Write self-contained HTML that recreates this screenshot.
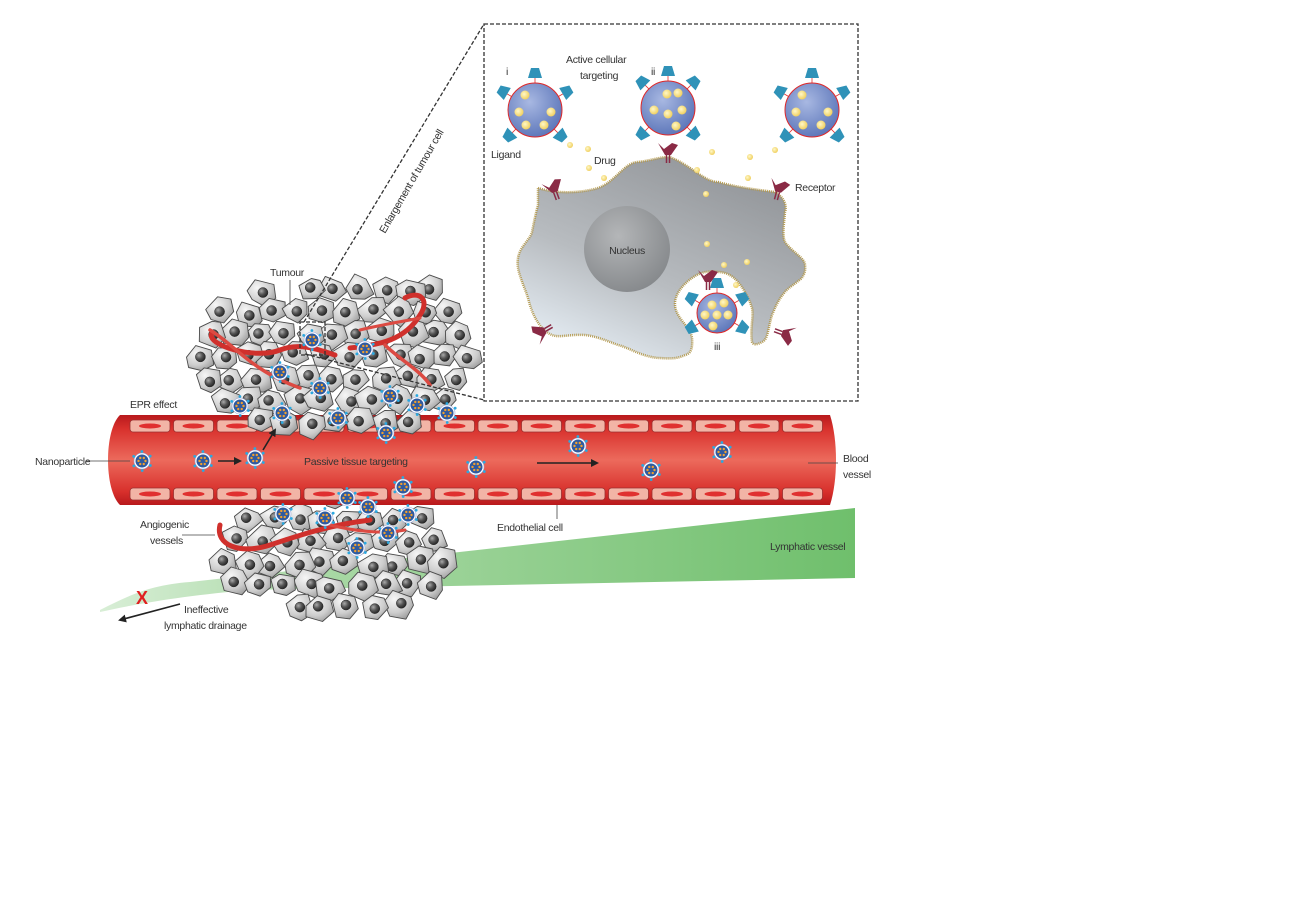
<!DOCTYPE html>
<html><head><meta charset="utf-8">
<style>
html,body{margin:0;padding:0;background:#fff;width:1300px;height:900px;overflow:hidden}
svg{display:block}
text{font-family:"Liberation Sans Narrow","Liberation Sans",sans-serif;font-size:10.5px;letter-spacing:-0.3px;fill:#333}
</style></head><body>
<svg id="s" width="1300" height="900" viewBox="0 0 1300 900" xmlns="http://www.w3.org/2000/svg">
<defs>
<linearGradient id="vessel" x1="0" y1="0" x2="0" y2="1">
<stop offset="0" stop-color="#b8191c"/><stop offset="0.15" stop-color="#d8302c"/><stop offset="0.5" stop-color="#ec6a5c"/><stop offset="0.85" stop-color="#d8302c"/><stop offset="1" stop-color="#b8191c"/></linearGradient>
<linearGradient id="lymph" x1="0" y1="0" x2="1" y2="0">
<stop offset="0" stop-color="#d8eed6"/><stop offset="0.3" stop-color="#a8d8a4"/><stop offset="1" stop-color="#6fbf6c"/></linearGradient>
<radialGradient id="cellg" cx="0.35" cy="0.3" r="0.8">
<stop offset="0" stop-color="#f6f6f6"/><stop offset="0.6" stop-color="#cdcdcd"/><stop offset="1" stop-color="#989898"/></radialGradient>
<radialGradient id="nuc" cx="0.35" cy="0.35" r="0.7">
<stop offset="0" stop-color="#aaa"/><stop offset="0.5" stop-color="#555"/><stop offset="1" stop-color="#222"/></radialGradient>
<linearGradient id="bigcell" x1="0.2" y1="1" x2="0.8" y2="0">
<stop offset="0" stop-color="#e6eef5"/><stop offset="0.4" stop-color="#b8bcc0"/><stop offset="1" stop-color="#8f9296"/></linearGradient>
<radialGradient id="bignuc" cx="0.4" cy="0.35" r="0.7">
<stop offset="0" stop-color="#b4b6b8"/><stop offset="1" stop-color="#85888b"/></radialGradient>
<radialGradient id="np" cx="0.4" cy="0.35" r="0.7">
<stop offset="0" stop-color="#a8b8e2"/><stop offset="1" stop-color="#5a74b8"/></radialGradient>
<radialGradient id="dot" cx="0.4" cy="0.4" r="0.6">
<stop offset="0" stop-color="#fff8c8"/><stop offset="1" stop-color="#f0d060"/></radialGradient>
<marker id="ah" markerWidth="8" markerHeight="8" refX="6" refY="4" orient="auto" markerUnits="userSpaceOnUse">
<path d="M0,0 L8,4 L0,8 Z" fill="#222"/></marker>
</defs>

<path d="M100,610 C130,595 150,585 190,582 L855,508 L855,578 L250,590 C190,595 140,603 100,612 Z" fill="url(#lymph)"/>

<g id="tumLow"></g>

<path d="M120,415 L830,415 C838,440 838,480 830,505 L120,505 C104,490 104,430 120,415 Z" fill="url(#vessel)"/>
<g id="endo"></g>

<g id="tumUp"></g>
<g id="redv" fill="none" stroke-linecap="round">
<path d="M212,333 C205,345 255,360 280,350 C300,342 320,350 335,355" stroke="#d0302c" stroke-width="5"/>
<path d="M210,330 C235,345 250,370 300,388" stroke="#dc4a42" stroke-width="3.5"/>
<path d="M405,298 C420,290 430,300 420,315 C405,340 380,345 350,348" stroke="#d0302c" stroke-width="5"/>
<path d="M385,345 C400,360 420,370 430,385" stroke="#dc4a42" stroke-width="3.5"/>
<path d="M360,330 C380,325 400,322 420,318" stroke="#dc4a42" stroke-width="3"/>
<path d="M220,525 C215,545 240,555 270,545 C300,535 330,525 370,520" stroke="#d0302c" stroke-width="5"/>
<path d="M330,525 C350,530 380,535 405,530" stroke="#dc4a42" stroke-width="3"/>
</g>
<g id="nps"></g>

<g stroke="#222" stroke-width="1.6" fill="none">
<line x1="218" y1="461" x2="240" y2="461" marker-end="url(#ah)"/>
<line x1="263" y1="450" x2="275" y2="430" marker-end="url(#ah)"/>
<line x1="537" y1="463" x2="597" y2="463" marker-end="url(#ah)"/>
<line x1="180" y1="604" x2="120" y2="620" marker-end="url(#ah)"/>
</g>
<text x="136" y="604" style="font-size:18px;fill:#e02020;font-weight:bold">X</text>

<g stroke="#444" stroke-width="0.8">
<line x1="86" y1="461" x2="130" y2="461"/>
<line x1="808" y1="463" x2="838" y2="463"/>
<line x1="557" y1="505" x2="557" y2="519"/>
<line x1="182" y1="535" x2="215" y2="535"/>
<line x1="290" y1="280" x2="290" y2="305"/>
</g>

<g stroke="#333" stroke-width="1.3" fill="none" stroke-dasharray="4,2">
<rect x="484" y="24" width="374" height="377"/>
<rect x="300" y="322" width="25" height="33"/>
<line x1="304" y1="322" x2="484" y2="24"/>
<line x1="305" y1="354" x2="484" y2="400"/>
</g>
<text transform="translate(385,234) rotate(-60)">Enlargement of tumour cell</text>

<path d="M538,188 C560,195 585,192 598,188 C615,182 625,162 638,162 C655,160 665,155 672,158 C690,165 705,182 718,182 C740,188 760,190 775,192 C785,198 787,206 785,212 C784,225 782,235 785,242 C792,252 805,258 805,265 C806,272 803,276 802,278 C795,284 788,288 785,292 C778,300 775,308 772,315 C768,328 768,340 762,342 C757,345 753,345 752,342 C750,328 754,316 752,308 C748,295 742,287 738,282 C732,275 725,272 718,272 C705,270 698,274 692,278 C682,285 676,294 675,302 C674,318 690,325 692,338 C693,350 690,354 685,355 C675,360 665,358 658,358 C640,356 630,348 618,345 C605,340 595,336 585,335 C570,334 560,338 552,335 C540,330 532,315 528,298 C522,280 516,270 518,258 C520,246 530,240 532,232 C534,222 536,212 538,205 Z" fill="url(#bigcell)" stroke="#b49a50" stroke-width="2.5" stroke-dasharray="1,1"/>
<circle cx="627" cy="249" r="43" fill="url(#bignuc)"/>
<text x="627" y="254" text-anchor="middle">Nucleus</text>
<g id="inset"></g>

<text x="270" y="276">Tumour</text>
<text x="130" y="408">EPR effect</text>
<text x="35" y="465">Nanoparticle</text>
<text x="304" y="465">Passive tissue targeting</text>
<text x="843" y="462">Blood</text>
<text x="843" y="478">vessel</text>
<text x="497" y="531">Endothelial cell</text>
<text x="140" y="528">Angiogenic</text>
<text x="150" y="544">vessels</text>
<text x="770" y="550">Lymphatic vessel</text>
<text x="184" y="613">Ineffective</text>
<text x="164" y="629">lymphatic drainage</text>
<text x="566" y="63">Active cellular</text>
<text x="580" y="79">targeting</text>
<text x="506" y="75">i</text>
<text x="651" y="75">ii</text>
<text x="491" y="158">Ligand</text>
<text x="594" y="164">Drug</text>
<text x="795" y="191">Receptor</text>
<text x="714" y="350">iii</text>
</svg>
<script>
var NS="http://www.w3.org/2000/svg";
function el(p,t,a){var e=document.createElementNS(NS,t);for(var k in a)e.setAttribute(k,a[k]);p.appendChild(e);return e;}
var seed=7;function r(){seed=(seed*16807)%2147483647;return (seed-1)/2147483646;}
var endo=document.getElementById('endo');
for(var x=130;x<800;x+=43.5){
 [420,488].forEach(function(y){
  el(endo,'rect',{x:x,y:y,width:40,height:12,rx:3,fill:'#f2b4a6',stroke:'#9a3030','stroke-width':0.8});
  el(endo,'ellipse',{cx:x+20,cy:y+6,rx:11,ry:2.5,fill:'#e03030'});
 });
}
function cells(g,cx,cy,rx,ry,ymin,ymax,extra){
 g=document.getElementById(g);
 var pts=[];
 for(var y=cy-ry;y<=cy+ry;y+=22){for(var x=cx-rx;x<=cx+rx;x+=25){
  var jx=x+(r()-0.5)*8+((Math.round((y-cy)/22))%2?12:0), jy=y+(r()-0.5)*6;
  var d=((jx-cx)/rx)*((jx-cx)/rx)+((jy-cy)/ry)*((jy-cy)/ry);
  if(d<1.05&&jy>ymin&&jy<ymax&&(!extra||extra(jx,jy)))pts.push([jx,jy]);
 }}
 pts.sort(function(a,b){return a[1]-b[1];});
 pts.forEach(function(p){
  var s=13+r()*3,n=6,d='';
  for(var i=0;i<n;i++){var a=i/n*Math.PI*2+r()*0.5;var rr=s*(0.85+r()*0.3);
   d+=(i?'L':'M')+(p[0]+Math.cos(a)*rr).toFixed(1)+','+(p[1]+Math.sin(a)*rr*0.9).toFixed(1);}
  el(g,'path',{d:d+'Z',fill:'url(#cellg)',stroke:'#4a4a4a','stroke-width':0.9,'stroke-linejoin':'round'});
  el(g,'circle',{cx:p[0]+(r()-0.5)*3,cy:p[1]+(r()-0.5)*3,r:5,fill:'url(#nuc)',stroke:'#222','stroke-width':0.5});
 });
}
cells('tumUp',335,352,138,84,270,428,function(x,y){return x>305||y>292;});
cells('tumLow',340,555,118,58,495,612);
var nps=document.getElementById('nps');
[[142,461],[203,461],[255,458],[578,446],[476,467],[651,470],[722,452],[312,340],[280,372],[320,388],[240,406],[282,413],[338,418],[365,349],[386,433],[390,396],[417,405],[447,413],[403,487],[347,498],[368,507],[408,515],[325,518],[357,548],[283,514],[388,533]].forEach(function(p){
 el(nps,'circle',{cx:p[0],cy:p[1],r:8,fill:'#fff',stroke:'#9ad','stroke-width':0.6});
 el(nps,'circle',{cx:p[0],cy:p[1],r:6.5,fill:'#2f5aa0'});
 for(var i=0;i<6;i++){var a=i*1.05;
  el(nps,'circle',{cx:p[0]+Math.cos(a)*3.5,cy:p[1]+Math.sin(a)*3.5,r:1.2,fill:'#f0a030'});
  el(nps,'circle',{cx:p[0]+Math.cos(a+0.5)*9.5,cy:p[1]+Math.sin(a+0.5)*9.5,r:1.4,fill:'#2aa8e0'});}
});
var ins=document.getElementById('inset');
function lig(x,y,ang){var g=el(ins,'g',{transform:'translate('+x+','+y+') rotate('+ang+')'});
 el(g,'path',{d:'M-7,-5 L7,-5 L4,5 L-4,5 Z',fill:'#2f92b8'});}
function part(cx,cy,R,dots,ligs){
 ligs.forEach(function(a){var rad=(a-90)*Math.PI/180;
  el(ins,'line',{x1:cx+Math.cos(rad)*R,y1:cy+Math.sin(rad)*R,x2:cx+Math.cos(rad)*(R+6),y2:cy+Math.sin(rad)*(R+6),stroke:'#e03030','stroke-width':0.8});
  lig(cx+Math.cos(rad)*(R+10),cy+Math.sin(rad)*(R+10),a+180);});
 el(ins,'circle',{cx:cx,cy:cy,r:R,fill:'url(#np)',stroke:'#e02828','stroke-width':1});
 dots.forEach(function(d){el(ins,'circle',{cx:cx+d[0],cy:cy+d[1],r:4.5,fill:'url(#dot)'});});
}
var D=[[-10,-15],[-16,2],[16,2],[-9,15],[9,15]];
part(535,110,27,D,[0,60,135,225,300]);
part(668,108,27,[[10,-15],[-14,2],[0,6],[14,2],[8,18],[-1,-14]],[0,45,135,225,315]);
part(812,110,27,D,[0,60,135,225,300]);
part(717,313,20,[[-5,-8],[7,-10],[-12,2],[0,2],[11,2],[-4,13]],[0,60,120,240,300]);
function rec(x,y,a){var g=el(ins,'g',{transform:'translate('+x+','+y+') rotate('+a+')'});
 el(g,'path',{d:'M-10,-12 L-4,-6 L4,-12 L10,-10 L3,0 L-3,0 Z',fill:'#8a2a45'});
 el(g,'line',{x1:-1.5,y1:0,x2:-1.5,y2:8,stroke:'#8a2a45','stroke-width':1.5});
 el(g,'line',{x1:1.5,y1:0,x2:1.5,y2:8,stroke:'#8a2a45','stroke-width':1.5});}
rec(668,155,0);rec(555,192,-20);rec(778,192,15);rec(545,330,-120);rec(782,333,110);rec(708,282,0);
[[570,145],[588,149],[589,168],[604,178],[697,170],[712,152],[750,157],[775,150],[748,178],[706,194],[707,244],[724,265],[747,262],[736,285]].forEach(function(d){
 el(ins,'circle',{cx:d[0],cy:d[1],r:3,fill:'url(#dot)'});});
</script>
</body></html>
